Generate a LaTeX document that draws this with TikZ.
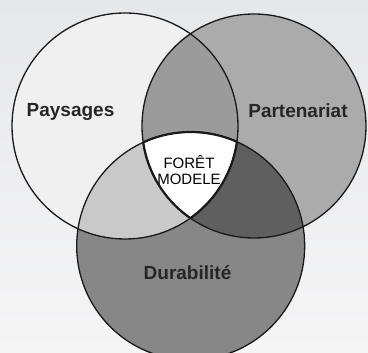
\documentclass[tikz,border=0pt]{standalone}
\usepackage{fontspec}
\setmainfont{Liberation Sans}
\definecolor{bgtop}{RGB}{230,231,233}
\definecolor{bgbot}{RGB}{245,245,246}
\definecolor{cLonly}{RGB}{240,240,240}
\definecolor{cRonly}{RGB}{171,171,171}
\definecolor{cBonly}{RGB}{135,135,135}
\definecolor{cLR}{RGB}{155,155,155}
\definecolor{cLB}{RGB}{201,201,201}
\definecolor{cRB}{RGB}{95,95,95}
\definecolor{outline}{RGB}{25,25,25}
\tikzset{
  ring/.style={draw=outline, line width=1.3pt},
  core/.style={draw=outline, line width=2.2pt},
  biglabel/.style={font=\fontsize{19}{19}\selectfont\bfseries, text=black!85, anchor=base, inner sep=0pt},
  smalllabel/.style={font=\fontsize{15}{16}\selectfont, text=black, align=center, inner sep=0pt}
}
\begin{document}
\begin{tikzpicture}[x=1pt,y=1pt]
\useasboundingbox (0,0) rectangle (368,353);
\shade[top color=bgtop, bottom color=bgbot] (0,0) rectangle (368,353);
\coordinate (cL) at (125,227);
\coordinate (cR) at (254,227);
\coordinate (cB) at (190.7,107);
\begin{scope}
\clip (0,0) rectangle (368,353);
\fill[cLonly] (cL) circle[radius=113];
\fill[cRonly] (cR) circle[radius=112];
\fill[cBonly] (cB) circle[radius=114];
\begin{scope}
  \clip (cL) circle[radius=113];
  \fill[cLR] (cR) circle[radius=112];
  \fill[cLB] (cB) circle[radius=114];
\end{scope}
\begin{scope}
  \clip (cR) circle[radius=112];
  \fill[cRB] (cB) circle[radius=114];
\end{scope}
\begin{scope}
  \clip (cL) circle[radius=113];
  \clip (cR) circle[radius=112];
  \fill[white] (cB) circle[radius=114];
\end{scope}
\draw[ring] (cL) circle[radius=113];
\draw[ring] (cR) circle[radius=112];
\draw[ring] (cB) circle[radius=114];
\begin{scope}
  \clip (cL) circle[radius=113];
  \clip (cR) circle[radius=112];
  \draw[core] (cB) circle[radius=114];
\end{scope}
\begin{scope}
  \clip (cL) circle[radius=113];
  \clip (cB) circle[radius=114];
  \draw[core] (cR) circle[radius=112];
\end{scope}
\begin{scope}
  \clip (cR) circle[radius=112];
  \clip (cB) circle[radius=114];
  \draw[core] (cL) circle[radius=113];
\end{scope}
\end{scope}
\node[biglabel] (pay) at (70.5,236) {Paysages};
\node[biglabel] (par) at (298,235) {Partenariat};
\node[biglabel] (dur) at (187.5,73) {Durabilité};
\node[smalllabel] (fm) at (189,183) {FORÊT\\MODELE};
\end{tikzpicture}
\end{document}
